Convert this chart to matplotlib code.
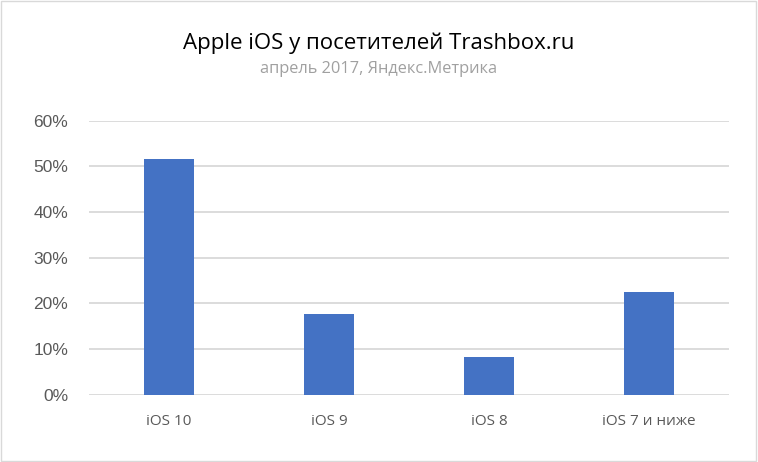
import matplotlib.pyplot as plt
from matplotlib.ticker import PercentFormatter
from matplotlib.patches import Rectangle

categories = ["iOS 10", "iOS 9", "iOS 8", "iOS 7 и ниже"]
shares = [51.5, 17.6, 8.2, 22.5]
yticks = [0, 10, 20, 30, 40, 50, 60]

fig = plt.figure(figsize=(7.58, 4.62), dpi=100)
ax = fig.add_axes([0.1174, 0.146, 0.8443, 0.593])

x = range(len(categories))
ax.bar(x, shares, width=0.3125, color="#4472c4", zorder=3)

ax.set_xlim(-0.5, len(categories) - 0.5)
ax.set_ylim(0, 60)
ax.set_yticks(yticks)
ax.yaxis.set_major_formatter(PercentFormatter(decimals=0))
ax.set_xticks(list(x))
ax.set_xticklabels(categories, fontfamily="Open Sans", fontsize=11, color="#595959")
for lab in ax.get_yticklabels():
    lab.set_fontfamily("Liberation Sans")
    lab.set_fontsize(12.5)
    lab.set_color("#595959")

ax.grid(axis="y", color="#d9d9d9", linewidth=1.3, zorder=0)
for s in ax.spines.values():
    s.set_visible(False)
ax.tick_params(length=0, pad=15, axis="y")
ax.tick_params(length=0, pad=14, axis="x")

fig.text(0.5, 0.907, "Apple iOS у посетителей Trashbox.ru", ha="center", va="center",
         fontfamily="Open Sans", fontsize=16, color="#000000")
fig.text(0.5, 0.850, "апрель 2017, Яндекс.Метрика", ha="center", va="center",
         fontfamily="Open Sans", fontsize=11.8, color="#a0a0a0")

fig.patches.append(Rectangle((0.001, 0.002), 0.997, 0.996, transform=fig.transFigure,
                             fill=False, edgecolor="#d9d9d9", linewidth=1))

fig.savefig("out.png", dpi=100, facecolor="white")
